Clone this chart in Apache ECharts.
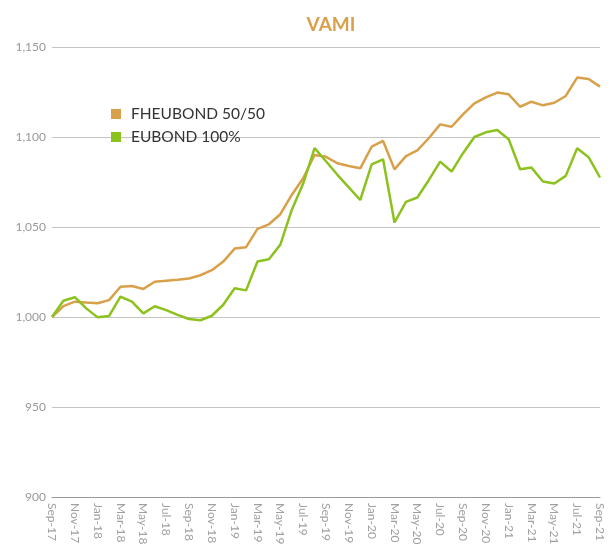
<!DOCTYPE html>
<html>
<head>
<meta charset="utf-8">
<script src="https://cdn.jsdelivr.net/npm/echarts@6/dist/echarts.min.js"></script>
<style>
html,body{margin:0;padding:0;background:#fff;}
#chart{width:612px;height:548px;}
</style>
</head>
<body>
<div id="chart"></div>
<script>
const months = ["Sep-17","Oct-17","Nov-17","Dec-17","Jan-18","Feb-18","Mar-18","Apr-18","May-18","Jun-18","Jul-18","Aug-18",
"Sep-18","Oct-18","Nov-18","Dec-18","Jan-19","Feb-19","Mar-19","Apr-19","May-19","Jun-19","Jul-19","Aug-19",
"Sep-19","Oct-19","Nov-19","Dec-19","Jan-20","Feb-20","Mar-20","Apr-20","May-20","Jun-20","Jul-20","Aug-20",
"Sep-20","Oct-20","Nov-20","Dec-20","Jan-21","Feb-21","Mar-21","Apr-21","May-21","Jun-21","Jul-21","Aug-21","Sep-21"];

const fheubond = [1000,1006,1008.5,1008,1007.6,1009.4,1016.8,1017.2,1015.6,1019.6,1020.2,1020.7,
1021.4,1023.2,1026,1030.8,1038,1038.8,1049,1051.5,1057.1,1067.8,1077.1,1090,
1089,1085.4,1083.9,1082.6,1094.6,1097.8,1082,1089.4,1092.6,1099.3,1107,1105.7,
1112.6,1118.7,1122,1124.7,1123.7,1116.8,1119.6,1117.6,1119,1122.8,1133,1132.2,1128];

const eubond = [1000,1009,1011,1004.8,999.8,1000.6,1011.3,1008.5,1002,1006,1003.8,1001.2,
998.9,998.2,1000.7,1006.8,1016,1014.8,1030.8,1032.1,1040.2,1059.5,1074.1,1093.8,
1086.5,1079,1072,1065,1084.8,1087.6,1052.5,1064,1066.4,1076,1086.3,1080.8,
1091,1100,1102.6,1103.9,1098.8,1082.1,1083,1075.3,1074.2,1078.4,1093.7,1088.8,1077.5];

const seriesNames = ["FHEUBOND 50/50","EUBOND 100%"];
const yTicks = [900,950,1000,1050,1100,1150];

const chart = echarts.init(document.getElementById('chart'), null, {renderer:'canvas'});
const font = 'Lato, "Open Sans", sans-serif';
chart.setOption({
  animation:false,
  backgroundColor:'#fff',
  title:{
    text:'VAMI', left:326, top:10, textAlign:'center',
    textStyle:{color:'#D9A04A', fontSize:19, fontWeight:'bold', fontFamily:font}
  },
  legend:{
    orient:'vertical', left:106, top:101, itemGap:7,
    icon:'rect', itemWidth:10, itemHeight:10,
    textStyle:{color:'#333', fontSize:15.5, fontFamily:font, padding:[0,0,0,5]},
    data:seriesNames
  },
  grid:{left:52, right:12, top:47, bottom:51, containLabel:false},
  xAxis:{
    type:'category', data:months, boundaryGap:false,
    axisLine:{show:true, lineStyle:{color:'#9a9a9a', width:1}}, axisTick:{show:false},
    axisLabel:{interval:1, rotate:-90, color:'#a0a0a0', fontSize:12, fontFamily:font, margin:6}
  },
  yAxis:{
    type:'value', min:yTicks[0], max:yTicks[yTicks.length-1], interval:50,
    axisLine:{show:false}, axisTick:{show:false},
    splitLine:{lineStyle:{color:'#c4c4c4', width:1}},
    axisLabel:{color:'#999', fontSize:12, fontFamily:font, margin:6,
      formatter:v=>v.toLocaleString('en-US')}
  },
  series:[
    {name:seriesNames[0], type:'line', data:fheubond, showSymbol:false, symbol:'none',
     lineStyle:{color:'#D9A04A', width:2.5}, itemStyle:{color:'#D9A04A'}, z:2},
    {name:seriesNames[1], type:'line', data:eubond, showSymbol:false, symbol:'none',
     lineStyle:{color:'#8CC21E', width:2.5}, itemStyle:{color:'#8CC21E'}, z:3}
  ]
});
</script>
</body>
</html>
